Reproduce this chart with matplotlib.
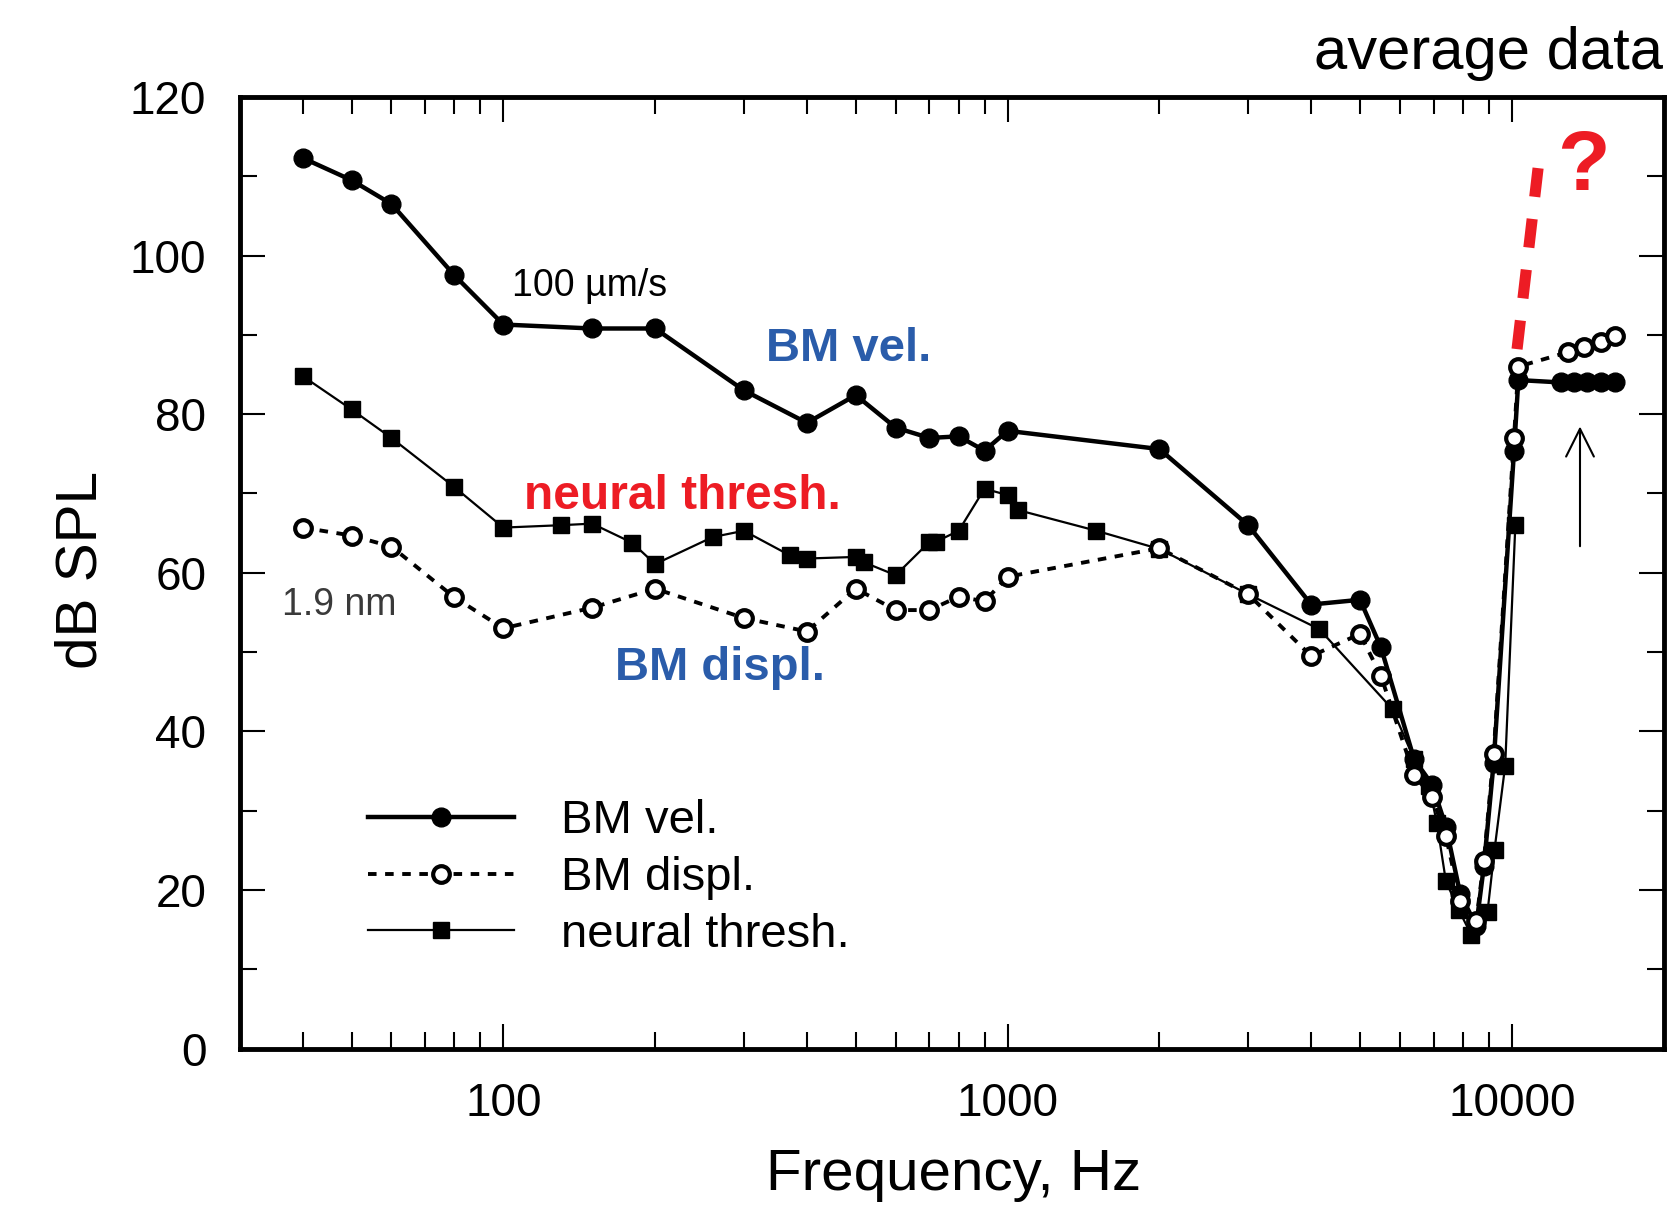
import numpy as np
import matplotlib
matplotlib.use("Agg")
import matplotlib.pyplot as plt
from matplotlib.ticker import FixedLocator, NullFormatter, FixedFormatter

plt.rcParams['font.family'] = ['Liberation Sans', 'DejaVu Sans']

# BM velocity (filled circles)
vel_f = [40, 50, 60, 80, 100, 150, 200, 300, 400, 500, 600, 700, 800, 900, 1000,
         2000, 3000, 4000, 5000, 5500, 6400, 6950, 7400, 7900, 8500, 8800, 9200,
         10100, 10300, 12500, 13300, 14100, 15000, 16000]
vel_db = [112.3, 109.5, 106.5, 97.5, 91.3, 90.8, 90.8, 83.0, 78.9, 82.4, 78.3, 77.0,
          77.2, 75.4, 77.9, 75.6, 66.0, 56.0, 56.6, 50.6, 36.5, 33.3, 28.0, 19.5,
          15.5, 23.0, 36.0, 75.4, 84.3, 84.0, 84.0, 84.0, 84.0, 84.0]

# BM displacement (open circles)
displ_f = [40, 50, 60, 80, 100, 150, 200, 300, 400, 500, 600, 700, 800, 900, 1000,
           2000, 3000, 4000, 5000, 5500, 6400, 6950, 7400, 7900, 8500, 8800, 9200,
           10100, 10300, 12900, 13900, 15000, 16000]
displ_db = [65.7, 64.7, 63.3, 56.9, 53.0, 55.6, 58.0, 54.3, 52.6, 58.0, 55.3, 55.3,
            57.0, 56.4, 59.5, 63.1, 57.3, 49.5, 52.3, 47.0, 34.5, 31.7, 26.8, 18.6,
            16.1, 23.7, 37.1, 77.0, 86.0, 87.8, 88.5, 89.1, 89.9]

# neural threshold (filled squares)
neur_f = [40, 50, 60, 80, 100, 130, 150, 180, 200, 260, 300, 370, 400, 500, 520, 600,
          700, 720, 800, 900, 1000, 1050, 1500, 2000, 3000, 4150, 5800, 6400, 6850,
          7100, 7400, 7850, 8300, 8950, 9240, 9700, 10160]
neur_db = [84.8, 80.6, 77.0, 70.8, 65.7, 66.0, 66.2, 63.8, 61.1, 64.5, 65.3, 62.2,
           61.8, 62.0, 61.3, 59.7, 63.9, 63.9, 65.3, 70.6, 69.8, 67.9, 65.3, 63.0,
           57.3, 52.9, 42.8, 36.5, 33.1, 28.5, 21.1, 17.5, 14.4, 17.3, 25.1, 35.7, 66.0]

x_ticks = [100, 1000, 10000]
x_ticklabels = ['100', '1000', '10000']
y_ticks = [0, 20, 40, 60, 80, 100, 120]

blue = '#2a5caa'
red = '#ed1c24'

fig = plt.figure(figsize=(16.7, 12.11), dpi=100)
ax = fig.add_axes([0.1435, 0.134, 0.8527, 0.786])

ax.plot(vel_f, vel_db, color='black', lw=3.2, marker='o', ms=13.5,
        mfc='black', mec='black', label='BM vel.', zorder=3)
ax.plot(displ_f, displ_db, color='black', lw=2.8, dashes=(2.2, 2.2), marker='o',
        ms=12, mfc='white', mec='black', mew=3, label='BM displ.', zorder=4)
ax.plot(neur_f, neur_db, color='black', lw=1.6, marker='s', ms=11,
        mfc='black', mec='black', label='neural thresh.', zorder=3)

ax.set_xscale('log')
ax.set_xlim(30, 20000)
ax.set_ylim(0, 120)

ax.xaxis.set_major_locator(FixedLocator(x_ticks))
ax.xaxis.set_major_formatter(FixedFormatter(x_ticklabels))
minor = [m * 10 ** k for k in (1, 2, 3) for m in range(2, 10) if 30 <= m * 10 ** k <= 20000]
ax.xaxis.set_minor_locator(FixedLocator(minor))
ax.xaxis.set_minor_formatter(NullFormatter())
ax.yaxis.set_major_locator(FixedLocator(y_ticks))
ax.yaxis.set_minor_locator(FixedLocator([10, 30, 50, 70, 90, 110]))

ax.tick_params(which='both', direction='in', top=True, right=True, width=1.5)
ax.tick_params(which='major', length=18, labelsize=33)
ax.tick_params(which='minor', length=12)
ax.tick_params(axis='x', which='major', pad=24)
ax.tick_params(axis='y', which='major', pad=24)
for s in ax.spines.values():
    s.set_linewidth(3.5)

ax.set_xlabel('Frequency, Hz', fontsize=42)
ax.set_ylabel('dB SPL', fontsize=42)
ax.xaxis.set_label_coords(0.501, -0.104)
ax.yaxis.set_label_coords(-0.092, 0.503)

ax.legend(loc='upper left', bbox_to_anchor=(0.09, 0.262), frameon=False,
          fontsize=34, handlelength=3.1, handletextpad=1.0, labelspacing=0.27,
          borderpad=0, borderaxespad=0)

ax.text(148, 96.2, '100 \u00b5m/s', fontsize=27, ha='center', va='center')
ax.text(47.3, 56.0, '1.9 nm', fontsize=27, ha='center', va='center', color='#3a3a3a')
ax.text(484, 88.2, 'BM vel.', fontsize=34, fontweight='bold', color=blue,
        ha='center', va='center')
ax.text(226, 69.6, 'neural thresh.', fontsize=34.5, fontweight='bold', color=red,
        ha='center', va='center')
ax.text(269, 48.0, 'BM displ.', fontsize=34, fontweight='bold', color=blue,
        ha='center', va='center')
ax.text(13870, 111, '?', fontsize=62, fontweight='bold', color=red,
        ha='center', va='center')

# red dashed "?" line
ax.plot([10240, 11400], [88.2, 113.7], color=red, lw=8, dashes=(2.6, 2.0),
        solid_capstyle='butt', zorder=5)

# black arrow
ax.annotate('', xy=(13650, 78.8), xytext=(13650, 63.0),
            arrowprops=dict(arrowstyle='->', lw=1.5, mutation_scale=50, color='black'))

fig.text(0.996, 0.956, 'average data', fontsize=43, ha='right', va='center')

fig.savefig('out.png', dpi=100)
